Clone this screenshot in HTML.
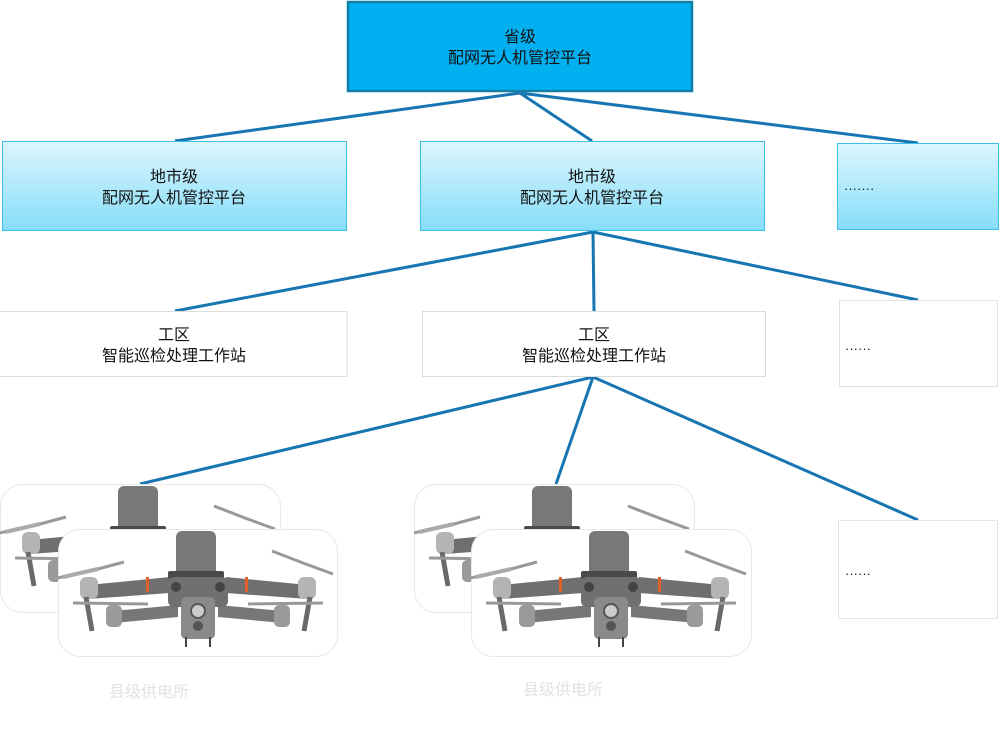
<!DOCTYPE html>
<html><head><meta charset="utf-8">
<style>
html,body{margin:0;padding:0;background:#fff;}
body{width:1000px;height:731px;overflow:hidden;position:relative;font-family:"Liberation Sans","Noto Sans CJK SC",sans-serif;}
</style></head>
<body>
<svg width="1000" height="731" viewBox="0 0 1000 731" xmlns="http://www.w3.org/2000/svg" style="position:absolute;left:0;top:0">
<defs>
<linearGradient id="g1" x1="0" y1="0" x2="0" y2="1">
<stop offset="0" stop-color="#dcf6fe"/><stop offset="1" stop-color="#86ddf8"/>
</linearGradient>
<clipPath id="cb"><rect x="0" y="0" width="280" height="128" rx="22"/></clipPath>
<g id="drone">
  <path d="M-5 50 L40 40 L66 33" stroke="#999" stroke-width="3" fill="none"/>
  <path d="M40 40 L5 48" stroke="#aaa" stroke-width="4"/>
  <path d="M214 22 L245 34 L275 45" stroke="#999" stroke-width="3" fill="none"/>
  <path d="M30 56 L112 48 L112 64 L30 70 Z" fill="#6f6f6f"/>
  <path d="M168 48 L250 56 L250 70 L168 64 Z" fill="#6f6f6f"/>
  <rect x="88" y="48" width="3" height="15" fill="#e0602a"/>
  <rect x="187" y="48" width="3" height="15" fill="#e0602a"/>
  <rect x="22" y="48" width="18" height="22" rx="6" fill="#b4b4b4"/>
  <rect x="240" y="48" width="18" height="22" rx="6" fill="#b4b4b4"/>
  <path d="M28 68 L34 102" stroke="#6a6a6a" stroke-width="5"/>
  <path d="M252 68 L246 102" stroke="#6a6a6a" stroke-width="5"/>
  <path d="M55 82 L120 76 L120 88 L55 94 Z" fill="#777"/>
  <path d="M160 76 L225 82 L225 94 L160 88 Z" fill="#777"/>
  <rect x="48" y="76" width="16" height="22" rx="5" fill="#9a9a9a"/>
  <rect x="216" y="76" width="16" height="22" rx="5" fill="#9a9a9a"/>
  <path d="M15 74 L90 75" stroke="#999" stroke-width="3"/>
  <path d="M190 75 L265 74" stroke="#999" stroke-width="3"/>
  <rect x="118" y="2" width="40" height="46" rx="6" fill="#787878"/>
  <rect x="110" y="42" width="56" height="8" rx="2" fill="#4a4a4a"/>
  <rect x="110" y="48" width="60" height="30" rx="6" fill="#707070"/>
  <circle cx="118" cy="58" r="5" fill="#444"/>
  <circle cx="162" cy="58" r="5" fill="#444"/>
  <rect x="123" y="68" width="34" height="42" rx="5" fill="#8a8a8a"/>
  <circle cx="140" cy="82" r="7" fill="#ccc" stroke="#555" stroke-width="2"/>
  <circle cx="140" cy="97" r="5" fill="#555"/>
  <path d="M128 108 L128 118 M152 108 L152 118" stroke="#444" stroke-width="2"/>
</g>
</defs>

<g stroke="#1776b2" stroke-width="3" fill="none">
<line x1="520" y1="93" x2="175" y2="141"/>
<line x1="520" y1="93" x2="592" y2="141"/>
<line x1="520" y1="93" x2="918" y2="143"/>
<line x1="593" y1="232" x2="175" y2="311"/>
<line x1="593" y1="232" x2="594" y2="311"/>
<line x1="593" y1="232" x2="918" y2="300"/>
<line x1="593" y1="377" x2="140" y2="484"/>
<line x1="593" y1="377" x2="556" y2="484"/>
<line x1="593" y1="377" x2="918" y2="520"/>
</g>

<rect x="348" y="2" width="344" height="89" fill="#00b0f0" stroke="#137fa6" stroke-width="2.5"/>
<text x="520" y="42" font-size="16" text-anchor="middle" fill="#111">省级</text>
<text x="520" y="63" font-size="16" text-anchor="middle" fill="#111">配网无人机管控平台</text>

<rect x="2.5" y="141.5" width="344" height="89" fill="url(#g1)" stroke="#3fbfe8" stroke-width="1"/>
<text x="174" y="182" font-size="16" text-anchor="middle" fill="#111">地市级</text>
<text x="174" y="203" font-size="16" text-anchor="middle" fill="#111">配网无人机管控平台</text>
<rect x="420.5" y="141.5" width="344" height="89" fill="url(#g1)" stroke="#3fbfe8" stroke-width="1"/>
<text x="592" y="182" font-size="16" text-anchor="middle" fill="#111">地市级</text>
<text x="592" y="203" font-size="16" text-anchor="middle" fill="#111">配网无人机管控平台</text>
<rect x="837.5" y="143.5" width="161" height="86" fill="url(#g1)" stroke="#3fbfe8" stroke-width="1"/>
<text x="844" y="193" font-size="13" fill="#111">·······</text>

<rect x="-1" y="311.5" width="348" height="65" fill="#fff" stroke="#dcdcdc" stroke-width="1"/>
<text x="174" y="340" font-size="16" text-anchor="middle" fill="#111">工区</text>
<text x="174" y="361" font-size="16" text-anchor="middle" fill="#111">智能巡检处理工作站</text>
<rect x="422.5" y="311.5" width="343" height="65" fill="#fff" stroke="#dcdcdc" stroke-width="1"/>
<text x="594" y="340" font-size="16" text-anchor="middle" fill="#111">工区</text>
<text x="594" y="361" font-size="16" text-anchor="middle" fill="#111">智能巡检处理工作站</text>
<rect x="839.5" y="300.5" width="158" height="86" fill="#fff" stroke="#e0e0e0" stroke-width="1"/>
<text x="845" y="353" font-size="13" fill="#111">······</text>

<rect x="838.5" y="520.5" width="159" height="98" fill="#fff" stroke="#e6e6e6" stroke-width="1"/>
<text x="845" y="578" font-size="13" fill="#111">······</text>

<g transform="translate(0,484)">
  <rect x="0.5" y="0.5" width="280" height="128" rx="22" fill="#fff" stroke="#e8e8e8"/>
  <g clip-path="url(#cb)"><use href="#drone"/></g>
</g>
<g transform="translate(58,529)">
  <rect x="0.5" y="0.5" width="279" height="127" rx="22" fill="#fff" stroke="#e8e8e8"/>
  <g clip-path="url(#cb)"><use href="#drone"/></g>
</g>
<g transform="translate(414,484)">
  <rect x="0.5" y="0.5" width="280" height="128" rx="22" fill="#fff" stroke="#e8e8e8"/>
  <g clip-path="url(#cb)"><use href="#drone"/></g>
</g>
<g transform="translate(471,529)">
  <rect x="0.5" y="0.5" width="280" height="127" rx="22" fill="#fff" stroke="#e8e8e8"/>
  <g clip-path="url(#cb)"><use href="#drone"/></g>
</g>

<text x="149" y="697" font-size="16" text-anchor="middle" fill="#e2e2e2">县级供电所</text>
<text x="563" y="695" font-size="16" text-anchor="middle" fill="#e2e2e2">县级供电所</text>
</svg>
</body></html>
